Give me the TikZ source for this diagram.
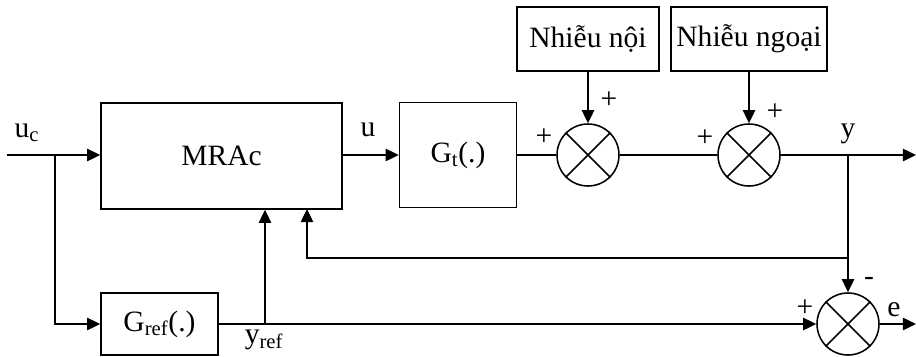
\documentclass[tikz,border=0pt]{standalone}
\usepackage{fontspec}
\setmainfont{Liberation Serif}
\usetikzlibrary{arrows.meta}
\tikzset{block/.style={draw,line width=1.1pt,inner sep=0pt},
  sum/.style={draw,circle,line width=1.1pt,minimum size=62*0.025cm,inner sep=0pt},
  sig/.style={line width=1.3pt},
  arr/.style={sig,-{Triangle[length=3.3mm,width=3.1mm]}},
  lbl/.style={inner sep=0pt}}
\begin{document}
\begin{tikzpicture}[x=0.025cm,y=-0.025cm,font=\fontsize{21}{25}\selectfont]
\useasboundingbox (0,0) rectangle (916,356);
% blocks
\node[block,minimum width=241*0.025cm,minimum height=106*0.025cm] (mrac) at (221.5,156) {MRAc};
\node[block,minimum width=117*0.025cm,minimum height=105*0.025cm] (gt) at (458,155) {G\textsubscript{t}(.)};
\node[block,minimum width=117*0.025cm,minimum height=62*0.025cm] (gref) at (159.5,324) {G\textsubscript{ref}(.)};
\node[block,minimum width=142*0.025cm,minimum height=64*0.025cm] (noi) at (588,39) {Nhiễu nội};
\node[block,minimum width=156*0.025cm,minimum height=64*0.025cm] (ngoai) at (749,39) {Nhiễu ngoại};
% summing points
\node[sum] (s1) at (588,155) {};
\node[sum] (s2) at (749,155) {};
\node[sum] (s3) at (848,324) {};
\foreach \s in {s1,s2,s3}
  \draw[line width=1.1pt] (\s.north west) -- (\s.south east) (\s.north east) -- (\s.south west);
% points
\coordinate (in) at (7,155);
\coordinate (b1) at (55,155);
\coordinate (yb) at (848,155);
\coordinate (out) at (916,155);
\coordinate (fb) at (848,258);
\coordinate (fbtop) at (307,209);
\coordinate (rb) at (265,324);
\coordinate (eout) at (916,324);
% signals
\draw[arr] (in) -- (in -| mrac.west);
\draw[arr] (b1) |- (gref.west);
\draw[arr] (mrac.east |- gt.west) -- (gt.west);
\draw[sig] (gt.east) -- (s1.west);
\draw[arr] (noi.south) -- (s1.north);
\draw[sig] (s1.east) -- (s2.west);
\draw[arr] (ngoai.south) -- (s2.north);
\draw[arr] (s2.east) -- (out);
\draw[arr] (yb) -- (s3.north);
\draw[arr] (fb) -| (fbtop);
\draw[arr] (gref.east) -- (s3.west);
\draw[arr] (rb) -- (rb |- mrac.south);
\draw[arr] (s3.east) -- (eout);
% labels
\node[lbl] (luc) at (27,133) {u\textsubscript{c}};
\node[lbl] (lu) at (368,130) {u};
\node[lbl] (ly) at (848,134) {y};
\node[lbl] (lyref) at (264,340) {y\textsubscript{ref}};
\node[lbl] (le) at (894,310) {e};
\node[lbl] (p1) at (544,137) {+};
\node[lbl] (p2) at (609,100) {+};
\node[lbl] (p3) at (705,138) {+};
\node[lbl] (p4) at (775,112) {+};
\node[lbl] (m5) at (869,281) {-};
\node[lbl] (p6) at (805,308) {+};
\end{tikzpicture}
\end{document}
